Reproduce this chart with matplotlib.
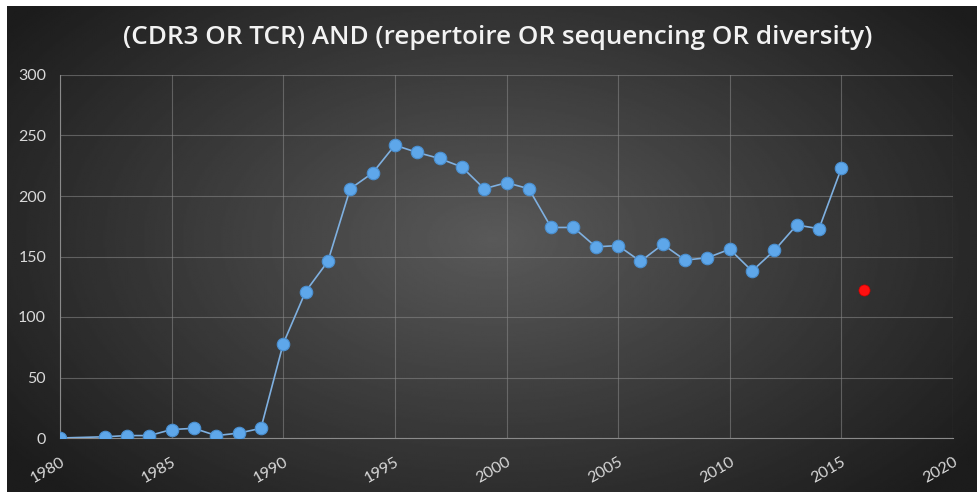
import numpy as np
import matplotlib
matplotlib.use('Agg')
import matplotlib.pyplot as plt

# publications per year
years = [1980, 1982, 1983, 1984, 1985, 1986, 1987, 1988, 1989,
         1990, 1991, 1992, 1993, 1994, 1995, 1996, 1997, 1998, 1999,
         2000, 2001, 2002, 2003, 2004, 2005, 2006, 2007, 2008, 2009,
         2010, 2011, 2012, 2013, 2014, 2015]
counts = [0, 1, 2, 2, 7, 8, 2, 4, 8,
          78, 121, 146, 206, 219, 242, 236, 231, 224, 206,
          211, 206, 174, 174, 158, 159, 146, 160, 147, 149,
          156, 138, 155, 176, 173, 223]

# partial year
extra_year = [2016]
extra_count = [122]

x_ticks = [1980, 1985, 1990, 1995, 2000, 2005, 2010, 2015, 2020]
y_ticks = [0, 50, 100, 150, 200, 250, 300]

title = '(CDR3 OR TCR) AND (repertoire OR sequencing OR diversity)'

plt.rcParams['font.family'] = ['Lato', 'DejaVu Sans']

W, H = 978, 492
fig = plt.figure(figsize=(W / 100, H / 100), dpi=100)
fig.patch.set_facecolor('white')

# dark radial gradient background
bg = fig.add_axes([7 / W, 0, 1 - 7 / W, 1 - 6 / H])
yy, xx = np.mgrid[0:1:300j, 0:1:600j]
r = np.sqrt(((xx - 0.5) / 0.75) ** 2 + ((yy - 0.48) / 0.9) ** 2)
shade = np.clip(0.35 - 0.29 * r, 0.11, 0.35)
bg.imshow(shade, cmap='gray', vmin=0, vmax=1, aspect='auto',
          extent=[0, 1, 0, 1], interpolation='bilinear')
bg.set_axis_off()

ax = fig.add_axes([60 / W, 1 - 438 / H, (953 - 60) / W, (438 - 75) / H])
ax.patch.set_alpha(0)

ax.plot(years, counts, color='#7fb0e0', lw=1.2, zorder=3)
ax.plot(years, counts, ls='none', marker='o', ms=9, mfc='#5ea7ea',
        mec='#4a8fd0', mew=0.8, zorder=4)
ax.plot(extra_year, extra_count, ls='none', marker='o', ms=8,
        mfc='#ff1010', mec='#d00000', mew=0.5, zorder=4)

ax.set_xlim(1980, 2020)
ax.set_ylim(0, 300)
ax.set_xticks(x_ticks)
ax.set_yticks(y_ticks)
ax.grid(True, color='#8a8a8a', lw=0.8, alpha=0.55)
ax.set_axisbelow(True)
for side in ['top', 'right']:
    ax.spines[side].set_visible(False)
ax.spines['left'].set_color('#8a8a8a')
ax.spines['bottom'].set_color('#8a8a8a')
ax.tick_params(axis='y', length=0, colors='#d9d9d9', labelsize=11.5, pad=10)
ax.tick_params(axis='x', length=0, colors='#d9d9d9', labelsize=11.5, pad=12)
for lab in ax.get_xticklabels():
    lab.set_rotation(30)
    lab.set_ha('right')
    lab.set_rotation_mode('anchor')

fig.text(498 / W, 1 - 44 / H, title, color='#f2f2f2', fontsize=18.8,
         fontweight='semibold', family=['Open Sans', 'DejaVu Sans'],
         ha='center', va='baseline')

fig.savefig('out.png', dpi=100, facecolor=fig.get_facecolor())
